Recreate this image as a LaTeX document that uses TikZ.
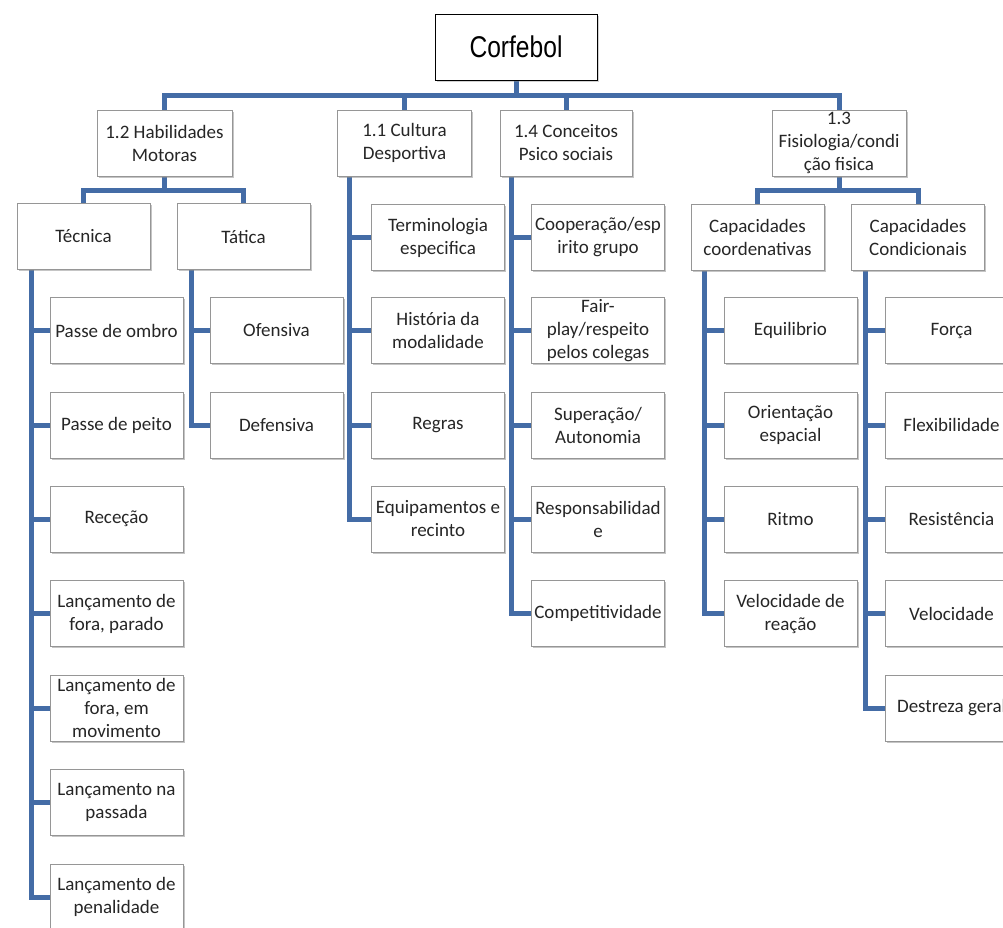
\documentclass[tikz,border=0pt]{standalone}
\usepackage{fontspec}
\setmainfont{Carlito}
\newfontfamily\rootfont[FakeStretch=0.82]{Liberation Sans}
\usetikzlibrary{shadows,backgrounds}
\definecolor{connblue}{RGB}{68,108,166}
\definecolor{boxborder}{RGB}{150,150,150}
\tikzset{
  box/.style={draw=boxborder, line width=1pt, fill=white, minimum width=133pt,
    minimum height=66pt, inner sep=0pt,
    drop shadow={shadow xshift=1.5pt, shadow yshift=-1.5pt, fill=black!45, opacity=0.5}},
  lbl/.style={align=center, inner sep=0pt, text=black!85, font=\fontsize{19}{23}\selectfont},
  link/.style={draw=connblue, line width=5pt, line join=miter},
}
\newcommand\bx[5][]{\node[box,#1] (#2) at (#3,#4) {}; \node[lbl] (#2-t) at (#2.center) {#5};}
\begin{document}
\begin{tikzpicture}[x=1pt,y=-1pt]
\useasboundingbox (0,0) rectangle (1003,927);
\clip (0,0) rectangle (1003,927);
% root
\node[draw=black, line width=1pt, fill=white, minimum width=162pt, minimum height=66pt,
  drop shadow={shadow xshift=1.5pt, shadow yshift=-1.5pt, fill=black!45, opacity=0.4},
  font=\rootfont\fontsize{30}{36}\selectfont] (root) at (516,47) {Corfebol};
% level 1
\bx[minimum width=135pt]{hab}{164.5}{143}{1.2 Habilidades\\Motoras}
\bx[minimum width=134pt]{cul}{404.5}{143}{1.1 Cultura\\Desportiva}
\bx[minimum width=132pt]{con}{566}{143}{1.4 Conceitos\\Psico sociais}
\bx[minimum width=134pt]{fis}{839}{143}{1.3\\Fisiologia/condi\\ção fisica}
% level 2
\bx{tec}{83.5}{236.5}{Técnica}
\bx{tat}{243.5}{236.5}{Tática}
\bx{cco}{757.5}{237}{Capacidades\\coordenativas}
\bx{ccn}{918}{237}{Capacidades\\Condicionais}
% Técnica
\bx{t1}{116.5}{330.5}{Passe de ombro}
\bx{t2}{116.5}{425}{Passe de peito}
\bx{t3}{116.5}{519}{Receção}
\bx{t4}{116.5}{613.5}{Lançamento de\\fora, parado}
\bx{t5}{116.5}{708}{Lançamento de\\fora, em\\movimento}
\bx{t6}{116.5}{802}{Lançamento na\\passada}
\bx{t7}{116.5}{897}{Lançamento de\\penalidade}
% Tática
\bx{a1}{276.5}{330.5}{Ofensiva}
\bx{a2}{276.5}{425}{Defensiva}
% Cultura
\bx{c1}{438}{237.5}{Terminologia\\especifica}
\bx{c2}{438}{330.5}{História da\\modalidade}
\bx{c3}{438}{425}{Regras}
\bx{c4}{438}{519}{Equipamentos e\\recinto}
% Conceitos
\bx{p1}{598}{237.5}{Cooperação/esp\\irito grupo}
\bx{p2}{598}{330.5}{Fair-\\play/respeito\\pelos colegas}
\bx{p3}{598}{425}{Superação/\\Autonomia}
\bx{p4}{598}{519}{Responsabilidad\\e}
\bx{p5}{598}{613.5}{Competitividade}
% Coordenativas
\bx{k1}{790.5}{330.5}{Equilibrio}
\bx{k2}{790.5}{425}{Orientação\\espacial}
\bx{k3}{790.5}{519}{Ritmo}
\bx{k4}{790.5}{613.5}{Velocidade de\\reação}
% Condicionais
\bx{d1}{951.5}{330.5}{Força}
\bx{d2}{951.5}{425}{Flexibilidade}
\bx{d3}{951.5}{519}{Resistência}
\bx{d4}{951.5}{613.5}{Velocidade}
\bx{d5}{951.5}{708}{Destreza geral}
% connectors
\begin{scope}[on background layer]
\foreach \n in {hab,cul,con,fis}
  \draw[link] (root.south) -- ++(0,15) -| (\n.north);
\foreach \n in {tec,tat}
  \draw[link] (hab.south) -- ++(0,14) -| (\n.north);
\foreach \n in {cco,ccn}
  \draw[link] (fis.south) -- ++(0,14) -| (\n.north);
\foreach \n in {t1,t2,t3,t4,t5,t6,t7}
  \draw[link] ([xshift=15pt]tec.south west) |- (\n.west);
\foreach \n in {a1,a2}
  \draw[link] ([xshift=15pt]tat.south west) |- (\n.west);
\foreach \n in {c1,c2,c3,c4}
  \draw[link] ([xshift=12pt]cul.south west) |- (\n.west);
\foreach \n in {p1,p2,p3,p4,p5}
  \draw[link] ([xshift=12pt]con.south west) |- (\n.west);
\foreach \n in {k1,k2,k3,k4}
  \draw[link] ([xshift=14pt]cco.south west) |- (\n.west);
\foreach \n in {d1,d2,d3,d4,d5}
  \draw[link] ([xshift=14pt]ccn.south west) |- (\n.west);
\end{scope}
\end{tikzpicture}
\end{document}
